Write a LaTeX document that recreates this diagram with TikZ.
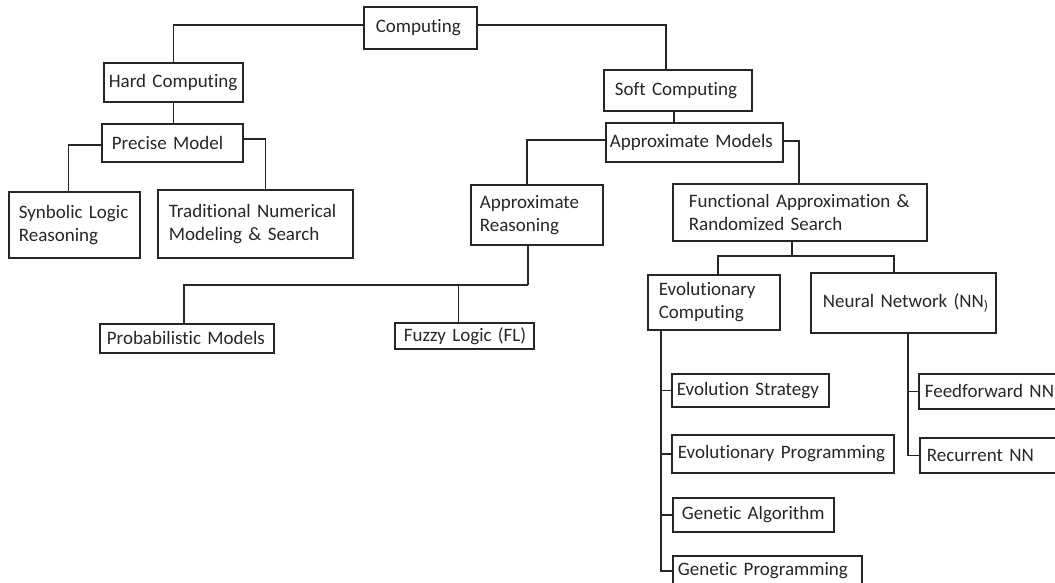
\documentclass[tikz,border=0pt]{standalone}
\usepackage{fontspec}
\setmainfont{Carlito}[Ligatures=CommonOff]
\usetikzlibrary{calc}
\newcommand\fs{\fontsize{19}{23}\selectfont}
\begin{document}
\begin{tikzpicture}[x=1pt,y=-1pt,
  bx/.style={draw=black!85, line width=1.7pt, anchor=north west, align=left,
             inner ysep=0pt, font=\fs, text=black!85},
  ln/.style={draw=black!85, line width=1.7pt}]
\useasboundingbox (0,0) rectangle (1055,583);
\clip (0,0) rectangle (1055,583);
% boxes
\node[bx, minimum height=42pt, inner xsep=12pt, text width=89pt]  (comp) at (363,6)   {Computing};
\node[bx, minimum height=39pt, inner xsep=5pt,  text width=129pt] (hard) at (103,62)  {Hard~Computing};
\node[bx, minimum height=38pt, inner xsep=10pt, text width=121pt] (prec) at (101,123) {Precise~Model};
\node[bx, minimum height=66pt, inner xsep=10pt, text width=111pt] (syn)  at (8,191)   {Synbolic~Logic\\Reasoning};
\node[bx, minimum height=68pt, inner xsep=11pt, text width=173pt] (trad) at (157,189) {Traditional~Numerical\\Modeling~\&~Search};
\node[bx, minimum height=41pt, inner xsep=11pt, text width=126pt] (soft) at (603,69)  {Soft~Computing};
\node[bx, minimum height=39pt, inner xsep=4pt,  text width=169pt] (am)   at (605,122) {Approximate~Models};
\node[bx, minimum height=60pt, inner xsep=9pt,  text width=114pt] (ar)   at (470,184) {Approximate\\Reasoning};
\node[bx, minimum height=57pt, inner xsep=16pt, text width=222pt] (fa)   at (672,183) {Functional~Approximation~\&\\Randomized~Search};
\node[bx, minimum height=29pt, inner xsep=7pt,  text width=160pt] (prob) at (99,323)  {Probabilistic~Models};
\node[bx, minimum height=26pt, inner xsep=9pt,  text width=121pt] (fuz)  at (394,322) {Fuzzy~Logic~(FL)};
\node[bx, minimum height=55pt, inner xsep=11pt, text width=110pt] (evo)  at (647,274) {Evolutionary\\Computing};
\node[bx, minimum height=60pt, inner xsep=12pt, text width=161pt] (nn)   at (810,272) {\mbox{Neural~Network~(NN\raisebox{-3pt}{\fontsize{14}{14}\selectfont )}}};
\node[bx, minimum height=33pt, inner xsep=5pt,  text width=147pt] (es)   at (671,373) {Evolution~Strategy};
\node[bx, minimum height=38pt, inner xsep=6pt,  text width=210pt] (ep)   at (671,434) {Evolutionary~Programming};
\node[bx, minimum height=34pt, inner xsep=9pt,  text width=143pt] (ga)   at (672,497) {Genetic~Algorithm};
\node[bx, minimum height=30pt, inner xsep=5pt,  text width=179pt] (gp)   at (672,555) {Genetic~Programming};
\node[bx, minimum height=35pt, inner xsep=6pt,  text width=138pt] (ff)   at (918,373) {Feedforward~NN};
\node[bx, minimum height=35pt, inner xsep=7pt,  text width=136pt] (rnn)  at (919,437) {Recurrent~NN};
% connectors
\draw[ln] ([yshift=3pt]comp.west) -| (hard.north);
\draw[ln] ([yshift=3pt]comp.east) -| ([xshift=-12pt]soft.north);
\draw[ln] (hard.south) -- (hard.south |- prec.north);
\draw[ln] ([yshift=-2pt]prec.west) -| ([xshift=-6pt]syn.north);
\draw[ln] ([yshift=4pt]prec.east) -| ([xshift=10pt]trad.north);
\draw[ln] ([xshift=-4pt]soft.south) -- ([xshift=-4pt]soft.south |- am.north);
\draw[ln] ([yshift=2pt]am.west) -| ([xshift=-10pt]ar.north);
\draw[ln] ([yshift=1pt]am.east) -| ([xshift=-1pt]fa.north);
\coordinate (arj) at ($(ar.south)+(-9,39)$);
\draw[ln] ([xshift=-9pt]ar.south) -- (arj);
\draw[ln] (arj) -| ([xshift=-3pt]prob.north);
\draw[ln] ([xshift=-6pt]fuz.north) -- ([xshift=-6pt]fuz.north |- arj);
\coordinate (faj) at ($(fa.south)+(-8,14)$);
\coordinate (evoj) at ($(evo.north)+(4,0)$);
\coordinate (nnj) at ($(nn.north)+(-9.5,0)$);
\draw[ln] ([xshift=-8pt]fa.south) -- (faj);
\draw[ln] (evoj) |- (faj -| nnj) -- (nnj);
\coordinate (evov) at ($(evo.south west)+(14,0)$);
\draw[ln] (evov) |- (gp.west);
\draw[ln] (es.west) -- (es.west -| evov);
\draw[ln] (ep.west) -- (ep.west -| evov);
\draw[ln] (ga.west) -- (ga.west -| evov);
\coordinate (nnv) at ($(nn.south)+(4.5,0)$);
\draw[ln] (nnv) |- (rnn.west);
\draw[ln] (ff.west) -- (ff.west -| nnv);
\end{tikzpicture}
\end{document}
